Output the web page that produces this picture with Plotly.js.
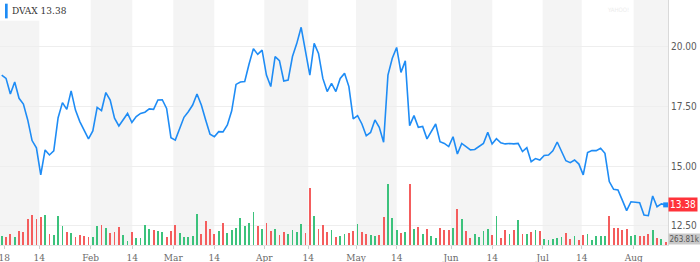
<!DOCTYPE html>
<html>
<head>
<meta charset="utf-8">
<script src="https://cdn.plot.ly/plotly-3.0.1.min.js"></script>
<style>html,body{margin:0;padding:0;background:#fff;}#chart{width:700px;height:262px;}</style>
</head>
<body>
<div id="chart"></div>
<script>
// ---- data (trading days from 2 Jan 2018) ----
const ticker = "DVAX";
const closePrices = [
  18.79,18.65,18.00,18.50,17.82,17.58,16.92,16.06,15.76,14.63,
  15.67,15.46,15.63,17.01,17.64,17.36,18.13,17.33,16.85,16.46,
  16.13,16.46,17.44,17.31,18.06,17.75,16.99,16.67,16.94,17.19,
  16.81,17.06,17.19,17.24,17.38,17.36,17.75,17.76,17.40,16.18,
  16.08,16.57,17.03,17.26,17.54,18.00,17.54,16.92,16.32,16.22,
  16.43,16.42,16.71,17.30,18.40,18.50,18.52,19.25,19.89,19.65,
  19.83,18.79,18.31,19.56,19.39,18.54,18.58,19.56,20.11,20.78,
  19.72,18.79,20.11,19.69,18.65,18.10,18.44,18.10,18.65,18.86,
  18.31,16.96,17.10,16.75,16.26,16.40,16.92,16.61,15.99,18.79,
  19.49,19.94,18.90,19.38,16.68,17.10,16.61,16.65,16.13,16.43,
  16.75,16.01,15.94,15.81,16.22,15.50,15.94,15.81,15.67,15.69,
  15.81,15.94,16.40,15.92,16.14,15.97,15.92,15.94,15.92,15.94,
  15.60,15.76,15.18,15.31,15.25,15.44,15.46,15.63,16.00,15.60,
  15.22,15.14,15.25,15.08,14.63,15.56,15.64,15.64,15.74,15.53,
  14.35,14.03,14.00,13.58,13.14,13.51,13.50,13.47,12.96,12.93,
  13.75,13.30,13.42,13.38
];
// volume in thousands of shares
const volumesK = [
  933,767,1067,800,1400,1300,2567,3000,2600,2800,
  2967,1100,1000,2900,1867,1333,1233,833,1000,933,
  833,767,1867,2033,1733,1233,1300,1800,967,433,
  1333,667,700,2000,1600,1467,1400,1300,800,1367,
  1967,1233,800,833,900,3100,1067,2367,1600,1067,
  1367,2200,1200,1500,1700,2667,1867,2167,3267,1900,
  1633,2233,1367,1567,1033,1300,1100,1500,1300,2100,
  1233,5667,2900,1567,2000,1300,1467,833,933,1100,
  1233,1433,2100,1300,1133,1000,900,967,2800,6067,
  2667,1500,1233,1267,6133,1567,1833,1133,1633,900,
  700,1700,1533,1500,1733,3633,2567,1400,733,1067,
  800,1400,1633,1000,2933,667,1500,1100,1467,2500,
  1100,1100,1267,1500,1400,600,533,567,667,767,
  1233,600,900,500,1033,1100,500,900,900,900,
  2900,1733,1700,1500,1567,900,967,933,900,1067,
  1467,667,567,263.81
];
// u = up day (green volume bar), d = down day (red volume bar)
const volumeDirection = (
  "uddudddddd" + "uduuududdd" + "duududdduu" + "duuuuduudd" + "duuuuudddd" +
  "uduuuuuuud" + "uddudduuuu" + "dduddduduu" + "ddudduuddu" + "uududududu" +
  "udddududdu" + "uuududdudu" + "dududuuuuu" + "ddudduuuuu" + "ddddduuddd" +
  "udud"
).split("");
// x-axis ticks (position in trading-day index) and labels
const tickPositions = [0.6, 8.66, 20.51, 30.09, 39.54, 48.99, 60.51, 70.65, 81.64, 91.01, 103.53, 113.04, 124.65, 133.64, 145.62];
const tickLabels    = ["18", "14", "Feb", "14", "Mar", "14", "Apr", "14", "May", "14", "Jun", "14", "Jul", "14", "Aug"];
const priceTicks = [12.5, 15, 17.5, 20];

// ---- chart ----
const dayIndex = closePrices.map((_, i) => i);
const xRange = [-0.39, 153.53];
const n = closePrices.length;
const lastPrice = closePrices[n - 1];
const lastVol = volumesK[n - 1];

const upColor = "#3cc27c", downColor = "#f45d5d";

const volumeTrace = {
  type: "bar", x: dayIndex, y: volumesK, yaxis: "y", xaxis: "x",
  width: 0.42,
  marker: { color: volumeDirection.map(d => d === "u" ? upColor : downColor), line: { width: 0 } },
  hoverinfo: "skip", showlegend: false
};
const priceTrace = {
  type: "scatter", mode: "lines", x: dayIndex, y: closePrices, yaxis: "y2", xaxis: "x",
  line: { color: "#1e8cf5", width: 1.6 }, showlegend: false
};
const lastPointTrace = {
  type: "scatter", mode: "markers", x: [dayIndex[n - 1]], y: [lastPrice], yaxis: "y2",
  marker: { color: "#1e8cf5", size: 5, symbol: "square" }, showlegend: false
};

// shaded bands: from each month start tick to its "14" tick
const shapes = [];
for (let k = 0; k < tickLabels.length; k += 2) {
  const x0 = k === 0 ? xRange[0] : tickPositions[k];
  const x1 = k + 1 < tickPositions.length ? tickPositions[k + 1] : xRange[1];
  shapes.push({ type: "rect", xref: "x", yref: "paper", x0: x0, x1: x1, y0: 0, y1: 1,
    fillcolor: "#f4f4f4", line: { width: 0 }, layer: "below" });
}
// white box behind the ticker label
shapes.push({ type: "rect", xref: "paper", yref: "paper", x0: 0, x1: 0.095, y0: 0.915, y1: 1,
  fillcolor: "#ffffff", line: { width: 0 }, layer: "above" });
// blue marker bar of the ticker label
shapes.push({ type: "rect", xref: "paper", yref: "paper", x0: 0.0075, x1: 0.0115, y0: 0.925, y1: 0.985,
  fillcolor: "#1e8cf5", line: { width: 0 }, layer: "above" });

const sansNarrow = '"Liberation Sans Narrow", "DejaVu Sans Condensed", "Liberation Sans", Arial, sans-serif';
const serifNarrow = '"DejaVu Serif Condensed", "Liberation Serif", serif';

const layout = {
  width: 700, height: 262, autosize: false,
  margin: { l: 0, r: 32, t: 0, b: 17, pad: 0 },
  paper_bgcolor: "#ffffff", plot_bgcolor: "#ffffff",
  showlegend: false, bargap: 0,
  xaxis: {
    type: "linear", range: xRange, tickmode: "array", tickvals: tickPositions, ticktext: tickLabels,
    showgrid: false, zeroline: false, ticks: "outside", ticklen: 3, tickcolor: "#cfcfcf",
    showline: true, linecolor: "#e3e3e3", linewidth: 1,
    tickfont: { family: serifNarrow, size: 10, color: "#6a6a6a" },
    ticklabeloverflow: "allow", fixedrange: true
  },
  yaxis: {
    range: [0, 24500], visible: false, showgrid: false, zeroline: false, fixedrange: true
  },
  yaxis2: {
    overlaying: "y", side: "right", range: [11.708, 21.917],
    tickmode: "array", tickvals: priceTicks, ticktext: priceTicks.map(v => v.toFixed(2)),
    showgrid: true, gridcolor: "#eeeeee", gridwidth: 1, zeroline: false,
    showline: true, linecolor: "#d9d9d9", linewidth: 1, ticks: "",
    tickfont: { family: sansNarrow, size: 10, color: "#5a5a5a" }, fixedrange: true
  },
  shapes: shapes,
  annotations: [
    { xref: "paper", yref: "paper", x: 0.015, y: 0.957, xanchor: "left", yanchor: "middle",
      text: ticker + " " + lastPrice.toFixed(2), showarrow: false,
      font: { family: serifNarrow, size: 10, color: "#333333" } },
    { xref: "paper", yref: "y2", x: 1, y: lastPrice, xanchor: "left", yanchor: "middle",
      text: lastPrice.toFixed(2), showarrow: false, bgcolor: "#ff333a", borderpad: 1,
      font: { family: sansNarrow, size: 10, color: "#ffffff" } },
    { xref: "paper", yref: "y", x: 1, y: lastVol, xanchor: "left", yanchor: "middle", yshift: 3,
      text: lastVol.toFixed(2) + "k", showarrow: false, bgcolor: "#c9c9c9", borderpad: 0.5,
      font: { family: sansNarrow, size: 8, color: "#555555" } },
    { xref: "paper", yref: "paper", x: 0.925, y: 0.985, xanchor: "center", yanchor: "top",
      text: "YAHOO!", showarrow: false, font: { family: sansNarrow, size: 6, color: "#ececec" } }
  ]
};

Plotly.newPlot("chart", [volumeTrace, priceTrace, lastPointTrace], layout, { displayModeBar: false, staticPlot: true });
</script>
</body>
</html>
